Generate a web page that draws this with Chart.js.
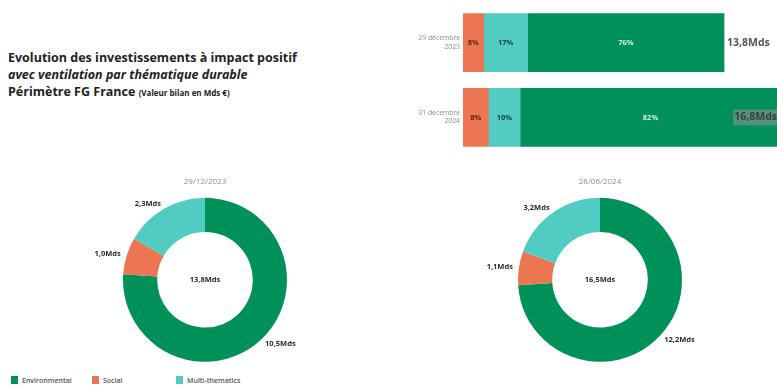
<!DOCTYPE html>
<html>
<head>
<meta charset="utf-8">
<script src="https://cdn.jsdelivr.net/npm/chart.js@4.4.0/dist/chart.umd.min.js"></script>
<style>
  body { margin: 0; width: 777px; height: 387px; overflow: hidden; background: #fff; position: relative; font-family: "Open Sans", Lato, sans-serif; }
  canvas, .abs { position: absolute; }
  #title { left: 8px; top: 49px; font-weight: bold; font-size: 12.5px; line-height: 17px; color: #222; white-space: nowrap; }
  #title small { font-size: 8px; }
  #legend { left: 11px; top: 376px; font-size: 7px; color: #555; font-weight: 600; }
  #legend span.item { position: absolute; white-space: nowrap; top: 0; }
  #legend i { display: inline-block; width: 7px; height: 8px; vertical-align: -1px; margin-right: 4px; }
</style>
</head>
<body>
<div id="title" class="abs">
  Evolution des investissements à impact positif<br>
  <em>avec ventilation par thématique durable</em><br>
  Périmètre FG France <small>(Valeur bilan en Mds €)</small>
</div>
<canvas id="bars" width="377" height="172" style="left:400px;top:-6px"></canvas>
<canvas id="donut1" width="240" height="200" style="left:85px;top:169px"></canvas>
<canvas id="donut2" width="240" height="200" style="left:480px;top:169px"></canvas>
<div id="legend" class="abs"></div>

<script>
// themes, same order everywhere
const themes = ["Environmental", "Social", "Multi-thematics"];
const themeColors = ["#009059", "#ec7552", "#52cbc3"];
const legendOffsets = [0, 81, 165];

// top bar chart (percent of total, totals in Mds)
const barDates = [["29 décembre", "2023"], ["31 décembre", "2024"]];
const barTotals = [13.8, 16.8];
const barSocialPct = [8, 8];
const barMultiPct = [17, 10];
const barEnvPct = [76, 82];

// donuts (Mds)
const donutDates = ["29/12/2023", "28/06/2024"];
const donut2023 = [10.5, 1.0, 2.3];
const donut2024 = [12.2, 1.1, 3.2];

const FONT = "'Open Sans', Lato, sans-serif";
const fmt = v => v.toFixed(1).replace(".", ",") + "Mds";

// split each total along the shown percentages
function share(pcts) {
  return pcts.map((p, i) => {
    const sum = barSocialPct[i] + barMultiPct[i] + barEnvPct[i];
    return barTotals[i] * p / sum;
  });
}

const barLabels = {
  id: "barLabels",
  afterDatasetsDraw(chart) {
    const ctx = chart.ctx;
    const area = chart.chartArea;
    ctx.save();
    ctx.textBaseline = "middle";
    chart.data.datasets.forEach((ds, di) => {
      chart.getDatasetMeta(di).data.forEach((bar, i) => {
        const p = bar.getProps(["x", "y", "base"], true);
        ctx.font = "bold 7.5px " + FONT;
        ctx.fillStyle = ds.textColor;
        ctx.textAlign = "center";
        ctx.fillText(ds.pct[i] + "%", (p.x + p.base) / 2, p.y);
      });
    });
    // totals
    const last = chart.getDatasetMeta(chart.data.datasets.length - 1);
    last.data.forEach((bar, i) => {
      const p = bar.getProps(["x", "y"], true);
      const txt = fmt(barTotals[i]);
      ctx.font = "bold 10.5px " + FONT;
      const w = ctx.measureText(txt).width;
      ctx.textAlign = "left";
      if (p.x + 3 + w <= area.right) {
        ctx.fillStyle = "#555";
        ctx.fillText(txt, p.x + 3, p.y);
      } else {
        const x0 = area.right - w;
        ctx.fillStyle = "rgba(150,150,150,0.55)";
        ctx.fillRect(x0 - 1, p.y - 8, w + 1, 16);
        ctx.fillStyle = "#3d3d3d";
        ctx.fillText(txt, x0, p.y);
      }
    });
    ctx.restore();
  }
};

new Chart(document.getElementById("bars"), {
  type: "bar",
  data: {
    labels: barDates,
    datasets: [
      { label: themes[1], data: share(barSocialPct), pct: barSocialPct, backgroundColor: themeColors[1], textColor: "#5a1f10" },
      { label: themes[2], data: share(barMultiPct), pct: barMultiPct, backgroundColor: themeColors[2], textColor: "#0d4747" },
      { label: themes[0], data: share(barEnvPct), pct: barEnvPct, backgroundColor: themeColors[0], textColor: "#d9f2e2" }
    ]
  },
  options: {
    indexAxis: "y",
    responsive: false,
    animation: false,
    layout: { padding: 0 },
    datasets: { bar: { barThickness: 58 } },
    scales: {
      x: { stacked: true, display: false, min: 0, max: 16.6 },
      y: {
        stacked: true,
        grid: { display: false, drawTicks: false },
        border: { display: false },
        ticks: { color: "#8c8c8c", font: { size: 6.8, family: FONT }, padding: 3 },
        afterFit(axis) { axis.width = 63; }
      }
    },
    plugins: { legend: { display: false }, tooltip: { enabled: false } }
  },
  plugins: [barLabels]
});

const donutLabels = {
  id: "donutLabels",
  afterDraw(chart) {
    const ctx = chart.ctx;
    const meta = chart.getDatasetMeta(0);
    const values = chart.data.datasets[0].data;
    ctx.save();
    ctx.font = "bold 7.5px " + FONT;
    ctx.fillStyle = "#2a2a2a";
    ctx.textBaseline = "middle";
    meta.data.forEach((arc, i) => {
      const p = arc.getProps(["x", "y", "startAngle", "endAngle", "outerRadius"], true);
      const a = (p.startAngle + p.endAngle) / 2;
      const r = p.outerRadius + 6;
      const x = p.x + Math.cos(a) * r;
      const y = p.y + Math.sin(a) * r;
      ctx.textAlign = Math.cos(a) < 0 ? "right" : "left";
      ctx.fillText(fmt(values[i]), x, y);
    });
    const c = meta.data[0];
    ctx.textAlign = "center";
    ctx.fillText(fmt(values.reduce((s, v) => s + v, 0)), c.x, c.y);
    ctx.restore();
  }
};

function donut(id, date, values) {
  new Chart(document.getElementById(id), {
    type: "doughnut",
    data: {
      labels: themes,
      datasets: [{ data: values, backgroundColor: themeColors, borderWidth: 0 }]
    },
    options: {
      responsive: false,
      animation: false,
      radius: 82,
      cutout: 52,
      layout: { padding: 0 },
      plugins: {
        legend: { display: false },
        tooltip: { enabled: false },
        title: {
          display: true, text: date, color: "#8c8c8c",
          font: { size: 8, weight: "normal", family: FONT },
          padding: { top: 8, bottom: 4 }
        }
      }
    },
    plugins: [donutLabels]
  });
}

donut("donut1", donutDates[0], donut2023);
donut("donut2", donutDates[1], donut2024);

// legend
const legend = document.getElementById("legend");
themes.forEach((t, i) => {
  const s = document.createElement("span");
  s.className = "item";
  s.style.left = legendOffsets[i] + "px";
  s.innerHTML = '<i style="background:' + themeColors[i] + '"></i>' + t;
  legend.appendChild(s);
});
</script>
</body>
</html>
